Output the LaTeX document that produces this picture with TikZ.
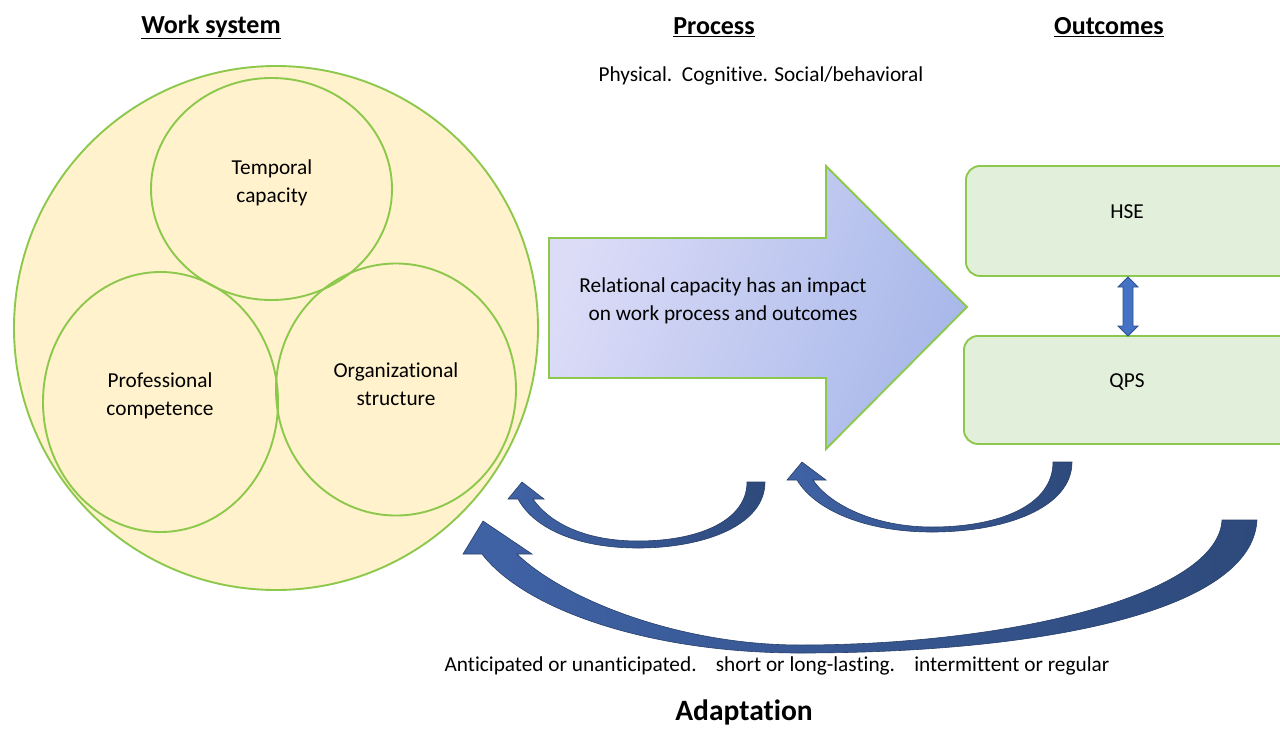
\documentclass[tikz,border=0pt]{standalone}
\usepackage{fontspec}
\setmainfont{Carlito}[Ligatures=NoCommon]
\usetikzlibrary{shapes.geometric}
\definecolor{gline}{HTML}{8CC84B}
\definecolor{yfill}{HTML}{FFF2CC}
\definecolor{bfill}{HTML}{E2EFDA}
\definecolor{navy}{HTML}{2E4A7C}
\definecolor{blueA}{HTML}{4063A6}
\definecolor{dblue}{HTML}{4472C4}
\definecolor{dblueline}{HTML}{2F528F}
\definecolor{lav}{HTML}{DCDCF7}
\definecolor{peri}{HTML}{A8B8EA}
\begin{document}
\begin{tikzpicture}[x=1pt,y=-1pt,
  every node/.style={font=\fontsize{21.3}{28}\selectfont, text=black, inner sep=0pt},
  bigcirc/.style={ellipse, draw=gline, line width=1.9pt, fill=yfill},
  circ/.style={ellipse, draw=gline, line width=1.9pt},
  obox/.style={draw=gline, line width=1.9pt, fill=bfill, rounded corners=14pt, anchor=north west},
  title/.style={font=\fontsize{26}{30}\selectfont\bfseries},
  curv/.style={left color=blueA, right color=navy, draw=navy!85!black, line width=0.6pt}]
\useasboundingbox (0,0) rectangle (1280,729);

% titles
\node[title] (t1) at (211,27) {\underline{Work system}};
\node[title] (t2) at (714,27) {\underline{Process}};
\node[title] (t3) at (1109,27) {\underline{Outcomes}};
\node (phys) at (761,76) {Physical.\ \ Cognitive. Social/behavioral};

% work system
\node[bigcirc, minimum width=524pt, minimum height=524pt] (ws) at (276,328) {};
\node[circ, minimum width=241pt, minimum height=222pt] (tc) at (271.5,189) {};
\node[circ, minimum width=235pt, minimum height=260pt] (pc) at (160.5,402) {};
\node[circ, minimum width=240pt, minimum height=252pt] (os) at (396,389.5) {};
\node[align=center] (tct) at (272,183) {Temporal\\capacity};
\node[align=center] (pct) at (160,395.5) {Professional\\competence};
\node[align=center] (ost) at (396,384) {Organizational\\structure};

% process arrow
\path[draw=gline, line width=1.9pt, left color=lav, right color=peri, shading angle=70]
  (549,238) -- (826,238) -- (826,166) -- (967,307) -- (826,449) -- (826,378) -- (549,378) -- cycle;
\node[align=center] (rel) at (723,301) {Relational capacity has an impact\\on work process and outcomes};

% outcomes
\node[obox, minimum width=340pt, minimum height=110pt] (hse) at (965,165) {};
\node[obox, minimum width=340pt, minimum height=108pt] (qps) at (963,335) {};
\node (hset) at (1127,212) {HSE};
\node (qpst) at (1127,382) {QPS};

% double arrow
\path[fill=dblue, draw=dblueline, line width=0.8pt]
  (1128,277) -- (1138,287) -- (1133,287) -- (1133,326) -- (1138,326) -- (1128,336)
  -- (1118,326) -- (1123,326) -- (1123,287) -- (1118,287) -- cycle;

% curved arrows
\path[curv] (765,482) .. controls (765,525) and (705,548) .. (638,548)
  .. controls (580,548) and (535,530) .. (518,499) -- (508,499) -- (522,482) -- (544,499) -- (533,499)
  .. controls (552,526) and (590,541) .. (638,541)
  .. controls (700,541) and (747,520) .. (747,482) -- cycle;

\path[curv] (1072,462) .. controls (1072,508) and (1005,532) .. (932,532)
  .. controls (865,532) and (815,510) .. (797,480) -- (787,480) -- (802,462) -- (826,480) -- (813,480)
  .. controls (830,505) and (875,527) .. (932,527)
  .. controls (1000,527) and (1053,505) .. (1053,462) -- cycle;

\path[curv] (1257,520) .. controls (1252,612) and (1040,653) .. (800,653)
  .. controls (650,653) and (525,610) .. (482,554) -- (463,554) -- (483,521) -- (532,554) -- (517,554)
  .. controls (565,600) and (680,645) .. (800,645)
  .. controls (1010,645) and (1218,595) .. (1222,520) -- cycle;

% adaptation
\node (ant) at (777,666) {Anticipated or unanticipated.\ \ \ \ short or long-lasting.\ \ \ \ intermittent or regular};
\node[font=\fontsize{29.5}{32}\selectfont\bfseries] (adp) at (744,712) {Adaptation};
\end{tikzpicture}
\end{document}
